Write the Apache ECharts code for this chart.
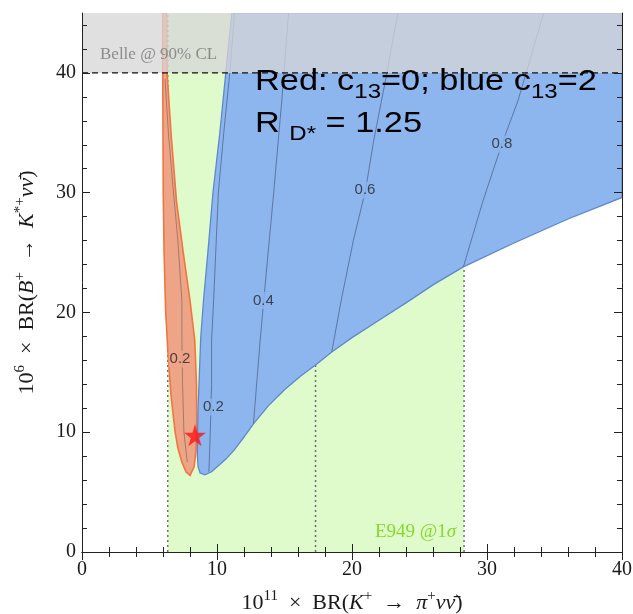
<!DOCTYPE html>
<html>
<head>
<meta charset="utf-8">
<title>BR(B+ → K*+ νν̄) vs BR(K+ → π+ νν̄)</title>
<script src="https://cdn.jsdelivr.net/npm/echarts@6/dist/echarts.min.js"></script>
<style>
  html, body { margin: 0; padding: 0; background: #fff; }
  #chart { width: 633px; height: 614px; }
</style>
</head>
<body>
<div id="chart"></div>
<script>
// axes
const xRange = [0, 40];
const yRange = [0, 45];
const yTickValues = [0, 10, 20, 30, 40];
const yMinorTickValues = [2, 4, 6, 8, 12, 14, 16, 18, 22, 24, 26, 28, 32, 34, 36, 38, 42, 44];

// experimental bands
const e949Range = [6.35, 28.3];
const e949Lines = [6.35, 17.3, 28.3];
const belleLimit = 40;

// red region (c13 = 0), edges bottom -> top
const redLeft = [[8.0, 6.4], [7.7, 6.7], [7.4, 7.5], [7.1, 8.7], [6.9, 10], [6.6, 13], [6.4, 16], [6.2, 20],
  [6.08, 25], [6.02, 30], [5.98, 40], [5.98, 45]];
const redRight = [[8.3, 7.1], [8.45, 8.5], [8.5, 11], [8.48, 14], [8.35, 17.7], [8.0, 21], [7.5, 25],
  [7.0, 29.3], [6.6, 34.9], [6.3, 40], [6.27, 45]];

// blue region (c13 = 2): left edge bottom -> top, lower edge left -> right
const blueLeft = [[8.75, 6.6], [8.6, 7.1], [8.55, 8.0], [8.55, 9.3], [8.6, 12], [8.7, 15], [8.8, 18],
  [9.0, 21], [9.4, 26], [9.7, 30], [10.2, 34.9], [10.65, 40], [11.1, 45]];
const blueLower = [[9.1, 6.45], [9.6, 6.7], [10.1, 7.2], [10.7, 7.8], [11.3, 8.55], [12.0, 9.6], [12.7, 10.7],
  [13.8, 12.2], [15.0, 13.55], [16.2, 14.7], [17.35, 15.65], [18.5, 16.7], [20, 17.9], [22, 19.35],
  [24, 20.8], [26, 22.3], [28.25, 23.8], [32, 25.8], [36, 27.8], [40, 29.6]];

// contour lines
const red02 = [[7.8, 7.5], [7.55, 10], [7.45, 14], [7.4, 18], [7.4, 21], [7.1, 26], [6.7, 31], [6.4, 35], [6.15, 39.5]];
const blue02 = [[9.4, 6.7], [9.5, 10], [9.6, 14], [9.6, 17.7], [9.75, 21], [10.1, 30], [10.5, 35], [10.95, 40], [11.3, 45]];
const blue04 = [[12.7, 10.7], [13.2, 17.7], [13.55, 22.1], [14.2, 30], [14.8, 37.7], [15.3, 45]];
const blue06 = [[18.5, 16.7], [19.2, 21], [20.1, 26], [21.0, 30.2], [21.6, 34.3], [22.5, 39.5], [23.4, 45]];
const blue08 = [[28.25, 23.8], [29.7, 29.3], [31.1, 34.05], [32.3, 37.7], [34.2, 45]];

// contour labels
const contourLabels = ['0.2', '0.2', '0.4', '0.6', '0.8'];
const contourLabelX = [7.26, 9.73, 13.43, 20.96, 31.1];
const contourLabelY = [16.1, 12.1, 21.0, 30.2, 34.05];
const contourLabelInRed = [true, false, false, false, false];

// benchmark point
const starPoint = [8.37, 9.75];

const RED_FILL = '#eea487';
const BLUE_FILL = '#8db5ee';
const SERIF = 'Liberation Serif';
const TXT = '#1a1a1a';

const chart = echarts.init(document.getElementById('chart'));

function polygon(name, pts, fill, stroke, lw, z) {
  return {
    type: 'custom',
    name: name,
    z: z,
    silent: true,
    clip: true,
    data: pts,
    renderItem: function (params, api) {
      if (params.dataIndex !== 0) return null;
      return {
        type: 'polygon',
        shape: { points: pts.map(function (p) { return api.coord(p); }) },
        style: { fill: fill, stroke: stroke, lineWidth: lw }
      };
    }
  };
}

function line(name, pts, color, width, type, z) {
  return {
    type: 'line',
    name: name,
    z: z,
    silent: true,
    data: pts,
    symbol: 'none',
    animation: false,
    lineStyle: { color: color, width: width, type: type }
  };
}

const greenBand = [[e949Range[0], yRange[0]], [e949Range[0], yRange[1]], [e949Range[1], yRange[1]], [e949Range[1], yRange[0]]];
const belleBand = [[xRange[0], belleLimit], [xRange[0], yRange[1]], [xRange[1], yRange[1]], [xRange[1], belleLimit]];
const redPoly = redLeft.concat(redRight.slice().reverse());
const bluePoly = blueLeft.slice().reverse().concat(blueLower, [[xRange[1], yRange[1]]]);

const series = [];
series.push(polygon('E949', greenBand, '#e0fbcb', null, 0, 1));
e949Lines.forEach(function (x, i) {
  series.push(line('e949line' + i, [[x, yRange[0]], [x, yRange[1]]], '#6f6f6f', 1.5, [2, 3], 2));
});
series.push(polygon('c13=0', redPoly, RED_FILL, '#f27540', 1.6, 3));
series.push(polygon('c13=2', bluePoly, BLUE_FILL, '#5f88cc', 1.3, 4));
series.push(line('red02', red02, '#a27a6c', 1, 'solid', 5));
[blue02, blue04, blue06, blue08].forEach(function (c, i) {
  series.push(line('blueC' + i, c, '#5b77a6', 1, 'solid', 5));
});
series.push({
  type: 'scatter',
  name: 'labels',
  z: 6,
  silent: true,
  symbolSize: 0,
  data: contourLabels.map(function (t, i) {
    return {
      name: t,
      value: [contourLabelX[i], contourLabelY[i]],
      label: { backgroundColor: contourLabelInRed[i] ? RED_FILL : BLUE_FILL }
    };
  }),
  label: {
    show: true,
    position: 'inside',
    formatter: '{b}',
    fontFamily: 'Liberation Sans',
    fontSize: 15,
    color: '#262626',
    padding: [1, 1]
  }
});
series.push(polygon('Belle', belleBand, 'rgba(214,214,214,0.76)', null, 0, 7));
series.push(line('belleLimit', [[xRange[0], belleLimit], [xRange[1], belleLimit]], '#111', 1.2, [6, 4], 8));
series.push({
  type: 'scatter',
  name: 'star',
  z: 9,
  silent: true,
  symbol: 'path://M50,0 L61,35 L98,35 L68,57 L79,91 L50,70 L21,91 L32,57 L2,35 L39,35 Z',
  symbolSize: 22,
  itemStyle: { color: '#ff1414' },
  data: [starPoint]
});

const tickLabel = { fontFamily: SERIF, fontSize: 20, color: TXT };
const nameRich = {
  n: { fontFamily: SERIF, fontSize: 22, color: TXT, lineHeight: 29 },
  i: { fontFamily: SERIF, fontSize: 22, fontStyle: 'italic', color: TXT, lineHeight: 29 },
  s: { fontFamily: SERIF, fontSize: 15, color: TXT, lineHeight: 15, verticalAlign: 'top' }
};
const frame = { show: true, lineStyle: { color: '#222', width: 1 } };

chart.setOption({
  animation: false,
  grid: { left: 82, right: 11, top: 13, bottom: 62, containLabel: false, outerBoundsMode: 'none' },
  xAxis: [
    {
      type: 'value', min: xRange[0], max: xRange[1], interval: 10, position: 'bottom', z: 20,
      axisLine: frame,
      axisTick: { show: true, inside: true, length: 8, lineStyle: { color: '#222' } },
      minorTick: { show: true, splitNumber: 5, length: 5, lineStyle: { color: '#222' } },
      splitLine: { show: false },
      axisLabel: Object.assign({ margin: 8 }, tickLabel),
      name: '{n|10}{s|11}{n|\u2002×\u2002BR(}{i|K}{s|+}{n|\u2002→\u2002}{i|π}{s|+}{i|νν\u0304}{n|)}',
      nameLocation: 'middle',
      nameGap: 37,
      nameTextStyle: { rich: nameRich }
    },
    {
      type: 'value', min: xRange[0], max: xRange[1], interval: 10, position: 'top', z: 20,
      axisLine: frame,
      axisTick: { show: true, inside: true, length: 8, lineStyle: { color: '#222' } },
      minorTick: { show: true, splitNumber: 5, length: 5, lineStyle: { color: '#222' } },
      splitLine: { show: false },
      axisLabel: { show: false }
    }
  ],
  yAxis: [
    {
      type: 'value', min: yRange[0], max: yRange[1], position: 'left', z: 20,
      axisLine: frame,
      axisTick: { show: true, inside: true, length: 8, customValues: yTickValues, lineStyle: { color: '#222' } },
      splitLine: { show: false },
      axisLabel: Object.assign({ margin: 6, customValues: yTickValues }, tickLabel),
      name: '{n|10}{s|6}{n|\u2002×\u2002BR(}{i|B}{s|+}{n|\u2002→\u2002}{i|K}{s|*+}{i|νν\u0304}{n|)}',
      nameLocation: 'middle',
      nameRotate: 90,
      nameGap: 40,
      nameTextStyle: { rich: nameRich }
    },
    {
      type: 'value', min: yRange[0], max: yRange[1], position: 'left', z: 20,
      axisLine: { show: false },
      axisTick: { show: true, inside: true, length: 5, customValues: yMinorTickValues, lineStyle: { color: '#222' } },
      splitLine: { show: false },
      axisLabel: { show: false }
    },
    {
      type: 'value', min: yRange[0], max: yRange[1], position: 'right', z: 20,
      axisLine: frame,
      axisTick: { show: true, inside: true, length: 8, customValues: yTickValues, lineStyle: { color: '#222' } },
      splitLine: { show: false },
      axisLabel: { show: false }
    },
    {
      type: 'value', min: yRange[0], max: yRange[1], position: 'right', z: 20,
      axisLine: { show: false },
      axisTick: { show: true, inside: true, length: 5, customValues: yMinorTickValues, lineStyle: { color: '#222' } },
      splitLine: { show: false },
      axisLabel: { show: false }
    }
  ],
  graphic: [
    {
      type: 'text', x: 255, y: 61, scaleX: 1.145, z: 100, silent: true,
      style: {
        text: 'Red: c{s|13}=0; blue c{s|13}=2\nR {s|D*} = 1.25',
        font: '30px "Liberation Sans"',
        fill: '#000',
        lineHeight: 42,
        rich: {
          s: { font: '21px "Liberation Sans"', fill: '#000', lineHeight: 16, verticalAlign: 'bottom' }
        }
      }
    },
    {
      type: 'text', x: 100, y: 55, z: 100, silent: true,
      style: { text: 'Belle @ 90% CL', font: '17px "Liberation Serif"', fill: '#8c8c8c', verticalAlign: 'middle' }
    },
    {
      type: 'text', x: 375, y: 532, z: 100, silent: true,
      style: {
        text: 'E949 @1{i|σ}', font: '19px "Liberation Serif"', fill: '#84d92a', verticalAlign: 'middle',
        rich: { i: { font: 'italic 19px "Liberation Serif"', fill: '#84d92a' } }
      }
    }
  ],
  series: series
});
</script>
</body>
</html>
